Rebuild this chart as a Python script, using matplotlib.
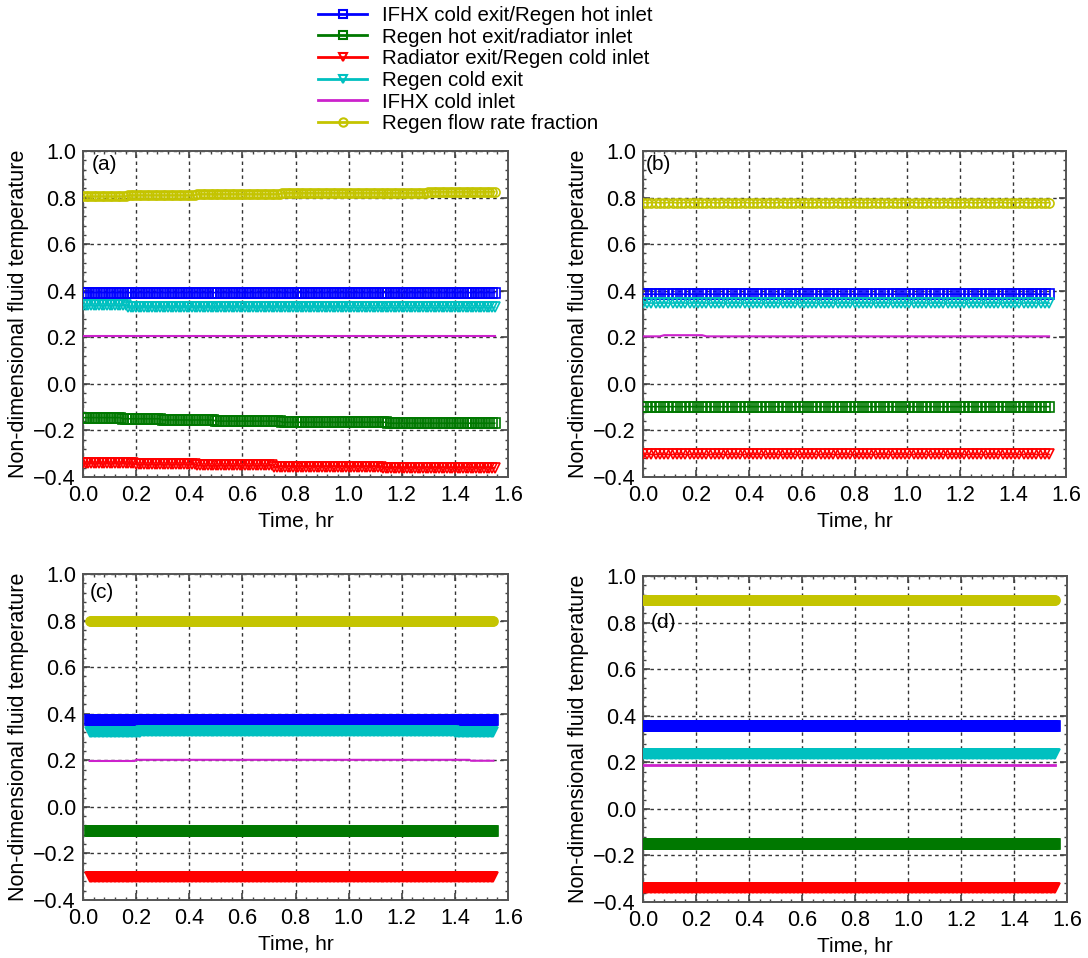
import matplotlib
matplotlib.use('Agg')
import numpy as np
import matplotlib.pyplot as plt
from matplotlib.lines import Line2D
from matplotlib.ticker import MultipleLocator, AutoMinorLocator

plt.rcParams['font.family'] = ['Liberation Sans', 'DejaVu Sans']
plt.rcParams['font.size'] = 15

# output time window of each run (hr) and the output interval
panel_labels = ['(a)', '(b)', '(c)', '(d)']
t_start = [0.0, 0.0, 0.025, 0.0]
t_end = [1.55, 1.54, 1.545, 1.555]
t_step = [0.01, 0.016, 0.005, 0.005]

# (time, level) pairs: level holds from that time until the next pair
ifhx_exit = [[(0.0, 0.392)],
             [(0.0, 0.385)],
             [(0.0, 0.375)],
             [(0.0, 0.354)]]
regen_hot_exit = [[(0.0, -0.145), (0.15, -0.150), (0.30, -0.155), (0.50, -0.160),
                   (0.75, -0.165), (1.15, -0.169)],
                  [(0.0, -0.098)],
                  [(0.0, -0.103)],
                  [(0.0, -0.153)]]
radiator_exit = [[(0.0, -0.340), (0.20, -0.345), (0.43, -0.350), (0.72, -0.355),
                  (1.13, -0.360)],
                 [(0.0, -0.303)],
                 [(0.0, -0.302)],
                 [(0.0, -0.338)]]
regen_cold_exit = [[(0.0, 0.338), (0.17, 0.330), (1.0, 0.328)],
                   [(0.0, 0.347)],
                   [(0.0, 0.322), (0.22, 0.326), (1.40, 0.322)],
                   [(0.0, 0.234)]]
ifhx_inlet = [[(0.0, 0.205)],
              [(0.0, 0.204), (0.08, 0.209), (0.23, 0.204)],
              [(0.0, 0.197), (0.20, 0.202), (1.46, 0.198)],
              [(0.0, 0.187)]]
flow_fraction = [[(0.0, 0.805), (0.17, 0.810), (0.43, 0.815), (0.75, 0.820), (1.30, 0.825)],
                 [(0.0, 0.778)],
                 [(0.0, 0.797)],
                 [(0.0, 0.895)]]

series_names = ['IFHX cold exit/Regen hot inlet', 'Regen hot exit/radiator inlet',
                'Radiator exit/Regen cold inlet', 'Regen cold exit',
                'IFHX cold inlet', 'Regen flow rate fraction']
series_data = [ifhx_exit, regen_hot_exit, radiator_exit, regen_cold_exit,
               ifhx_inlet, flow_fraction]
colors = ['#0000ff', '#007800', '#ff0000', '#00c0c0', '#cc22cc', '#c4c400']
markers = ['s', 's', 'v', 'v', None, 'o']

label_pos = [(0.033, 0.94), (0.012, 0.94), (0.026, 0.92), (0.030, 0.80)]


def level_series(t, pts):
    knots = np.array([p[0] for p in pts])
    vals = np.array([p[1] for p in pts])
    idx = np.searchsorted(knots, t, side='right') - 1
    return vals[np.clip(idx, 0, None)]


def minus_fmt(v, p):
    return f'{v:.1f}'.replace('-', '\u2212')


fig = plt.figure(figsize=(10.88, 9.58), dpi=100)
W, H = 1088.0, 958.0
boxes = [(83, 151, 508, 477), (643, 151, 1066, 477),
         (83, 574, 508, 900), (643, 576, 1067, 902)]

for k, (x0, y0, x1, y1) in enumerate(boxes):
    ax = fig.add_axes([x0 / W, 1 - y1 / H, (x1 - x0) / W, (y1 - y0) / H])
    t = np.arange(t_start[k], t_end[k] + 1e-9, t_step[k])
    filled = k >= 2
    for name, data, c, m in zip(series_names, series_data, colors, markers):
        y = level_series(t, data[k])
        if m is None:
            ax.plot(t, y, color=c, lw=2 if k == 3 else 1.5, zorder=3)
        else:
            ax.plot(t, y, color=c, lw=1.2, marker=m, ms=6.5,
                    mfc=c if filled else 'none', mec=c, mew=1.2, zorder=3,
                    snap=False)
    ax.set_xlim(0, 1.6)
    ax.set_ylim(-0.4, 1.0)
    ax.xaxis.set_major_locator(MultipleLocator(0.2))
    ax.yaxis.set_major_locator(MultipleLocator(0.2))
    ax.xaxis.set_minor_locator(AutoMinorLocator(5))
    ax.yaxis.set_minor_locator(AutoMinorLocator(5))
    ax.xaxis.set_major_formatter(plt.FuncFormatter(minus_fmt))
    ax.yaxis.set_major_formatter(plt.FuncFormatter(minus_fmt))
    ax.tick_params(which='both', direction='in', top=True, right=True, labelsize=15.5,
                   color='#444444')
    ax.tick_params(which='major', length=5, width=1.2)
    ax.tick_params(which='minor', length=2.5, width=1)
    ax.tick_params(axis='x', which='major', pad=6)
    ax.tick_params(axis='y', which='major', pad=5)
    ax.grid(True, which='major', color='#333333', linestyle=(0, (2.5, 2.5)), lw=1.0)
    for s in ax.spines.values():
        s.set_color('#555555')
        s.set_linewidth(1.4)
    ax.set_xlabel('Time, hr', fontsize=15, labelpad=4)
    ax.set_ylabel('Non-dimensional fluid temperature', fontsize=15.5, labelpad=3)
    lx, ly = label_pos[k]
    ax.text(lx, ly, panel_labels[k], fontsize=15, va='center', ha='left', zorder=4)

handles = []
for name, c, m in zip(series_names, colors, markers):
    handles.append(Line2D([], [], color=c, lw=2, marker=m, ms=6, mfc='none',
                          mec=c, mew=1.5, label=name))
fig.legend(handles=handles, loc='upper left', bbox_to_anchor=(318 / W, 1 - 6 / H),
           frameon=False, fontsize=14.8, numpoints=1, handlelength=2.4,
           handletextpad=0.7, labelspacing=0.13, borderpad=0, borderaxespad=0)

plt.savefig('out.png', dpi=100)
